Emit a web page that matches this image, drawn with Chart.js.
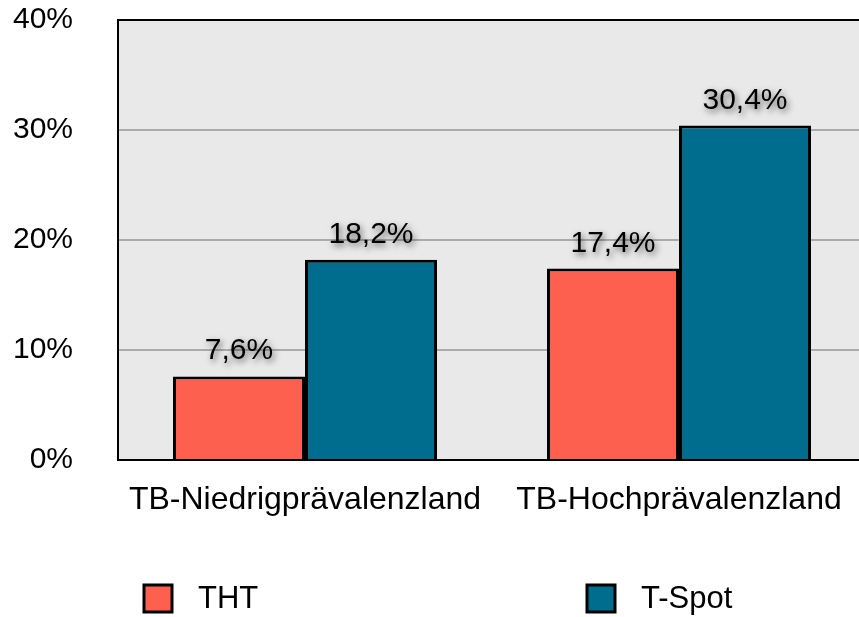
<!DOCTYPE html>
<html>
<head>
<meta charset="utf-8">
<script src="https://cdn.jsdelivr.net/npm/chart.js@4.4.1/dist/chart.umd.min.js"></script>
<style>
  html, body { margin: 0; padding: 0; background: #fff; overflow: hidden; }
  #wrap { width: 859px; height: 617px; overflow: hidden; }
  #box { width: 866px; height: 617px; }
</style>
</head>
<body>
<div id="wrap"><div id="box"><canvas id="tbChart"></canvas></div></div>
<script>
// data
const categories = ["TB-Niedrigprävalenzland", "TB-Hochprävalenzland"];
const thtValues = [7.6, 17.4];
const tspotValues = [18.2, 30.4];
const seriesNames = ["THT", "T-Spot"];
const yTicks = [0, 10, 20, 30, 40];

const FONT = '"Liberation Sans", Arial, Helvetica, sans-serif';
const fmtPct = v => v.toFixed(1).replace(".", ",") + "%";

// grey plot background
const plotBackground = {
  id: "plotBackground",
  beforeDraw(chart) {
    const { ctx, chartArea: a } = chart;
    ctx.save();
    ctx.fillStyle = "#e9e9e9";
    ctx.fillRect(a.left, a.top, a.right - a.left, a.bottom - a.top);
    ctx.restore();
  }
};

// value labels above the bars, with a soft shadow
const valueLabels = {
  id: "valueLabels",
  afterDatasetsDraw(chart) {
    const ctx = chart.ctx;
    ctx.save();
    ctx.font = "30px " + FONT;
    ctx.textAlign = "center";
    ctx.textBaseline = "alphabetic";
    ctx.fillStyle = "#000";
    ctx.shadowColor = "rgba(0,0,0,0.6)";
    ctx.shadowBlur = 6;
    ctx.shadowOffsetX = 2;
    ctx.shadowOffsetY = 3;
    chart.data.datasets.forEach((ds, i) => {
      chart.getDatasetMeta(i).data.forEach((bar, j) => {
        ctx.fillText(fmtPct(ds.data[j]), bar.x, bar.y - 17);
      });
    });
    ctx.restore();
  }
};

// legend at the bottom, items spread wide apart
const wideLegend = {
  id: "wideLegend",
  afterDraw(chart) {
    const { ctx, chartArea: a } = chart;
    ctx.save();
    ctx.font = "31px " + FONT;
    ctx.textBaseline = "middle";
    chart.data.datasets.forEach((ds, i) => {
      const x = a.left + 26 + i * 443;
      const y = 585;
      ctx.fillStyle = ds.backgroundColor;
      ctx.fillRect(x, y, 28, 27);
      ctx.lineWidth = 3;
      ctx.strokeStyle = "#000";
      ctx.strokeRect(x, y, 28, 27);
      ctx.fillStyle = "#000";
      ctx.fillText(ds.label, x + 54, y + 14);
    });
    ctx.restore();
  }
};

const ctx = document.getElementById("tbChart").getContext("2d");
new Chart(ctx, {
  type: "bar",
  data: {
    labels: categories,
    datasets: [
      {
        label: seriesNames[0],
        data: thtValues,
        backgroundColor: "#fe604f",
        borderColor: "#000",
        borderWidth: 3,
        categoryPercentage: 0.706,
        barPercentage: 1
      },
      {
        label: seriesNames[1],
        data: tspotValues,
        backgroundColor: "#006c8e",
        borderColor: "#000",
        borderWidth: 3,
        categoryPercentage: 0.706,
        barPercentage: 1
      }
    ]
  },
  options: {
    responsive: true,
    maintainAspectRatio: false,
    animation: false,
    layout: { padding: { left: 12, top: 20, right: 0, bottom: 0 } },
    plugins: {
      legend: { display: false },
      tooltip: { enabled: false }
    },
    scales: {
      x: {
        grid: { display: false },
        border: { display: true, color: "#000", width: 2 },
        ticks: { color: "#000", font: { family: FONT, size: 32 }, padding: 13 },
        afterFit: s => { s.height = 157; }
      },
      y: {
        min: 0,
        max: 40,
        afterBuildTicks: s => { s.ticks = yTicks.map(v => ({ value: v })); },
        grid: {
          drawTicks: false,
          lineWidth: 2,
          color: c => (c.tick && c.tick.value === 40 ? "#000" : "#ababab")
        },
        border: { display: true, color: "#000", width: 2 },
        ticks: {
          color: "#000",
          font: { family: FONT, size: 30 },
          padding: 45,
          callback: v => v + "%"
        },
        // keep the wide label gap from pushing the plot down
        afterFit: s => {
          s.width = 106;
          s.paddingTop = 0;
          s.paddingBottom = 0;
        }
      }
    }
  },
  plugins: [plotBackground, valueLabels, wideLegend]
});
</script>
</body>
</html>
